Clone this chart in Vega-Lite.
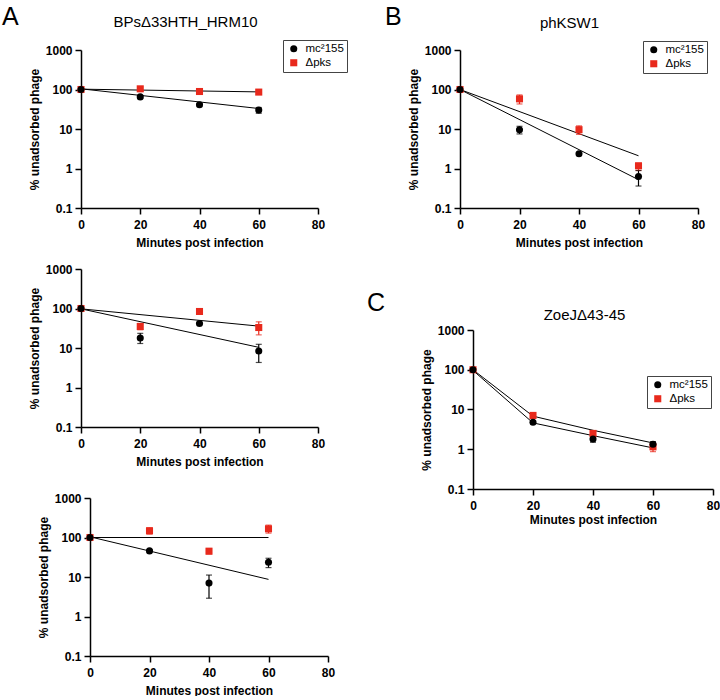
{
  "$schema": "https://vega.github.io/schema/vega-lite/v6.json",
  "padding": {"left": 2, "top": 4, "right": 0, "bottom": 0},
  "background": "white",
  "datasets": {
    "pts": [
      {"p": "A1", "s": "Δpks", "t": 0, "y": 100},
      {"p": "A1", "s": "Δpks", "t": 20, "y": 104, "lo": 92, "hi": 116},
      {"p": "A1", "s": "Δpks", "t": 40, "y": 89, "lo": 84, "hi": 94},
      {"p": "A1", "s": "Δpks", "t": 60, "y": 86, "lo": 76, "hi": 97},
      {"p": "A1", "s": "mc²155", "t": 0, "y": 100},
      {"p": "A1", "s": "mc²155", "t": 20, "y": 65, "lo": 60, "hi": 70},
      {"p": "A1", "s": "mc²155", "t": 40, "y": 41, "lo": 38, "hi": 44},
      {"p": "A1", "s": "mc²155", "t": 60, "y": 30.4, "lo": 25, "hi": 35},
      {"p": "A2", "s": "Δpks", "t": 0, "y": 100},
      {"p": "A2", "s": "Δpks", "t": 20, "y": 35, "lo": 29, "hi": 42},
      {"p": "A2", "s": "Δpks", "t": 40, "y": 84, "lo": 80, "hi": 88},
      {"p": "A2", "s": "Δpks", "t": 60, "y": 33, "lo": 21.5, "hi": 46},
      {"p": "A2", "s": "mc²155", "t": 0, "y": 100},
      {"p": "A2", "s": "mc²155", "t": 20, "y": 18, "lo": 13, "hi": 23.5},
      {"p": "A2", "s": "mc²155", "t": 40, "y": 41.8, "lo": 39, "hi": 44.5},
      {"p": "A2", "s": "mc²155", "t": 60, "y": 8.4, "lo": 4.3, "hi": 12.4},
      {"p": "A3", "s": "Δpks", "t": 0, "y": 100},
      {"p": "A3", "s": "Δpks", "t": 20, "y": 148, "lo": 122, "hi": 176},
      {"p": "A3", "s": "Δpks", "t": 40, "y": 45, "lo": 38.5, "hi": 52.5},
      {"p": "A3", "s": "Δpks", "t": 60, "y": 166, "lo": 129, "hi": 206},
      {"p": "A3", "s": "mc²155", "t": 0, "y": 100},
      {"p": "A3", "s": "mc²155", "t": 20, "y": 45.8, "lo": 43, "hi": 49},
      {"p": "A3", "s": "mc²155", "t": 40, "y": 7.0, "lo": 2.9, "hi": 11.2},
      {"p": "A3", "s": "mc²155", "t": 60, "y": 23.6, "lo": 17.3, "hi": 29.8},
      {"p": "B", "s": "Δpks", "t": 0, "y": 100},
      {"p": "B", "s": "Δpks", "t": 20, "y": 58, "lo": 43, "hi": 73},
      {"p": "B", "s": "Δpks", "t": 40, "y": 9.6, "lo": 7.3, "hi": 12},
      {"p": "B", "s": "Δpks", "t": 60, "y": 1.17, "lo": 0.89, "hi": 1.36},
      {"p": "B", "s": "mc²155", "t": 0, "y": 100},
      {"p": "B", "s": "mc²155", "t": 20, "y": 9.6, "lo": 7.5, "hi": 11.7},
      {"p": "B", "s": "mc²155", "t": 40, "y": 2.37, "lo": 2.2, "hi": 2.55},
      {"p": "B", "s": "mc²155", "t": 60, "y": 0.63, "lo": 0.36, "hi": 0.89},
      {"p": "C", "s": "Δpks", "t": 0, "y": 100},
      {"p": "C", "s": "Δpks", "t": 20, "y": 7.1, "lo": 6.0, "hi": 8.2},
      {"p": "C", "s": "Δpks", "t": 40, "y": 2.5, "lo": 2.1, "hi": 2.9},
      {"p": "C", "s": "Δpks", "t": 60, "y": 1.15, "lo": 0.87, "hi": 1.45},
      {"p": "C", "s": "mc²155", "t": 0, "y": 100},
      {"p": "C", "s": "mc²155", "t": 20, "y": 4.8, "lo": 4.5, "hi": 5.1},
      {"p": "C", "s": "mc²155", "t": 40, "y": 1.82, "lo": 1.5, "hi": 2.2},
      {"p": "C", "s": "mc²155", "t": 60, "y": 1.34, "lo": 1.14, "hi": 1.56}
    ],
    "fits": [
      {"p": "A1", "s": "mc²155", "t": 0, "y": 104},
      {"p": "A1", "s": "mc²155", "t": 60, "y": 33},
      {"p": "A1", "s": "Δpks", "t": 0, "y": 102},
      {"p": "A1", "s": "Δpks", "t": 60, "y": 87},
      {"p": "A2", "s": "mc²155", "t": 0, "y": 98},
      {"p": "A2", "s": "mc²155", "t": 60, "y": 10.4},
      {"p": "A2", "s": "Δpks", "t": 0, "y": 98},
      {"p": "A2", "s": "Δpks", "t": 60, "y": 35.8},
      {"p": "A3", "s": "mc²155", "t": 0, "y": 104},
      {"p": "A3", "s": "mc²155", "t": 60, "y": 8.7},
      {"p": "A3", "s": "Δpks", "t": 0, "y": 100},
      {"p": "A3", "s": "Δpks", "t": 60, "y": 100},
      {"p": "B", "s": "mc²155", "t": 0, "y": 100},
      {"p": "B", "s": "mc²155", "t": 60, "y": 0.52},
      {"p": "B", "s": "Δpks", "t": 0, "y": 100},
      {"p": "B", "s": "Δpks", "t": 60, "y": 2.1},
      {"p": "C", "s": "Δpks", "t": 0, "y": 100},
      {"p": "C", "s": "Δpks", "t": 20, "y": 6.8},
      {"p": "C", "s": "Δpks", "t": 40, "y": 3.0},
      {"p": "C", "s": "Δpks", "t": 60, "y": 1.44},
      {"p": "C", "s": "mc²155", "t": 0, "y": 96},
      {"p": "C", "s": "mc²155", "t": 20, "y": 4.6},
      {"p": "C", "s": "mc²155", "t": 40, "y": 2.2},
      {"p": "C", "s": "mc²155", "t": 60, "y": 1.08}
    ]
  },
  "resolve": {"scale": {"color": "independent", "shape": "independent"}, "legend": {"color": "independent", "shape": "independent"}},
  "spacing": 19,
  "hconcat": [
    {
      "vconcat": [
        {
          "width": 237, "height": 158,
          "title": {"text": "A", "dx": -79, "offset": -16},
          "resolve": {"axis": {"x": "independent"}},
          "layer": [
            {
              "data": {"name": "fits"},
              "transform": [{"filter": "datum.p === 'A1'"}],
              "mark": {"type": "line", "color": "black", "strokeWidth": 1},
              "encoding": {
                "x": {"field": "t", "type": "quantitative", "scale": {"domain": [0, 80], "nice": false}, "axis": {"values": [0, 20, 40, 60, 80], "title": "Minutes post infection"}},
                "y": {"field": "y", "type": "quantitative", "scale": {"type": "log", "domain": [0.1, 1000], "nice": false}, "axis": {"values": [0.1, 1, 10, 100, 1000], "format": "~g", "title": "% unadsorbed phage"}},
                "detail": {"field": "s"}
              }
            },
            {
              "data": {"name": "pts"},
              "transform": [{"filter": "datum.p === 'A1' && isValid(datum.lo)"}],
              "mark": {"type": "errorbar", "ticks": {"size": 6, "thickness": 1.2}, "rule": {"strokeWidth": 1.2}},
              "encoding": {
                "x": {"field": "t", "type": "quantitative", "scale": {"domain": [0, 80], "nice": false}, "axis": null},
                "y": {"field": "lo", "type": "quantitative", "scale": {"type": "log", "domain": [0.1, 1000], "nice": false}, "axis": {"values": [0.1, 1, 10, 100, 1000], "format": "~g", "title": "% unadsorbed phage"}},
                "y2": {"field": "hi"},
                "color": {"field": "s", "type": "nominal", "scale": {"domain": ["mc²155", "Δpks"], "range": ["black", "#e8291c"]}, "legend": {"orient": "none", "legendX": 202, "legendY": -10, "strokeColor": "#444444", "fillColor": "white"}}
              }
            },
            {
              "data": {"name": "pts"},
              "transform": [{"filter": "datum.p === 'A1'"}],
              "mark": {"type": "point", "filled": true, "size": 50, "opacity": 1},
              "encoding": {
                "x": {"field": "t", "type": "quantitative", "scale": {"domain": [0, 80], "nice": false}, "axis": {"orient": "top", "domain": false, "ticks": false, "labels": false, "title": "BPsΔ33HTH_HRM10", "titleX": 104, "titleY": -24, "titleAlign": "center", "titleBaseline": "alphabetic", "titleFontSize": 15, "titleFontWeight": "normal"}},
                "y": {"field": "y", "type": "quantitative", "scale": {"type": "log", "domain": [0.1, 1000], "nice": false}, "axis": {"values": [0.1, 1, 10, 100, 1000], "format": "~g", "title": "% unadsorbed phage"}},
                "color": {"field": "s", "type": "nominal", "scale": {"domain": ["mc²155", "Δpks"], "range": ["black", "#e8291c"]}, "legend": {"orient": "none", "legendX": 202, "legendY": -10, "strokeColor": "#444444", "fillColor": "white"}},
                "shape": {"field": "s", "type": "nominal", "scale": {"domain": ["mc²155", "Δpks"], "range": ["circle", "square"]}, "legend": {"orient": "none", "legendX": 202, "legendY": -10, "strokeColor": "#444444", "fillColor": "white"}}
              }
            }
          ]
        },
        {
          "width": 237, "height": 158,
          "layer": [
            {
              "data": {"name": "fits"},
              "transform": [{"filter": "datum.p === 'A2'"}],
              "mark": {"type": "line", "color": "black", "strokeWidth": 1},
              "encoding": {
                "x": {"field": "t", "type": "quantitative", "scale": {"domain": [0, 80], "nice": false}, "axis": {"values": [0, 20, 40, 60, 80], "title": "Minutes post infection"}},
                "y": {"field": "y", "type": "quantitative", "scale": {"type": "log", "domain": [0.1, 1000], "nice": false}, "axis": {"values": [0.1, 1, 10, 100, 1000], "format": "~g", "title": "% unadsorbed phage"}},
                "detail": {"field": "s"}
              }
            },
            {
              "data": {"name": "pts"},
              "transform": [{"filter": "datum.p === 'A2' && isValid(datum.lo)"}],
              "mark": {"type": "errorbar", "ticks": {"size": 6, "thickness": 1.2}, "rule": {"strokeWidth": 1.2}},
              "encoding": {
                "x": {"field": "t", "type": "quantitative", "scale": {"domain": [0, 80], "nice": false}, "axis": {"values": [0, 20, 40, 60, 80], "title": "Minutes post infection"}},
                "y": {"field": "lo", "type": "quantitative", "scale": {"type": "log", "domain": [0.1, 1000], "nice": false}, "axis": {"values": [0.1, 1, 10, 100, 1000], "format": "~g", "title": "% unadsorbed phage"}},
                "y2": {"field": "hi"},
                "color": {"field": "s", "type": "nominal", "scale": {"domain": ["mc²155", "Δpks"], "range": ["black", "#e8291c"]}, "legend": null}
              }
            },
            {
              "data": {"name": "pts"},
              "transform": [{"filter": "datum.p === 'A2'"}],
              "mark": {"type": "point", "filled": true, "size": 50, "opacity": 1},
              "encoding": {
                "x": {"field": "t", "type": "quantitative", "scale": {"domain": [0, 80], "nice": false}, "axis": {"values": [0, 20, 40, 60, 80], "title": "Minutes post infection"}},
                "y": {"field": "y", "type": "quantitative", "scale": {"type": "log", "domain": [0.1, 1000], "nice": false}, "axis": {"values": [0.1, 1, 10, 100, 1000], "format": "~g", "title": "% unadsorbed phage"}},
                "color": {"field": "s", "type": "nominal", "scale": {"domain": ["mc²155", "Δpks"], "range": ["black", "#e8291c"]}, "legend": null},
                "shape": {"field": "s", "type": "nominal", "scale": {"domain": ["mc²155", "Δpks"], "range": ["circle", "square"]}, "legend": null}
              }
            }
          ]
        },
        {
          "width": 247, "height": 168,
          "layer": [
            {
              "data": {"name": "fits"},
              "transform": [{"filter": "datum.p === 'A3'"}],
              "mark": {"type": "line", "color": "black", "strokeWidth": 1},
              "encoding": {
                "x": {"field": "t", "type": "quantitative", "scale": {"domain": [0, 80], "nice": false, "range": [9, 247]}, "axis": {"values": [0, 20, 40, 60, 80], "title": "Minutes post infection"}},
                "y": {"field": "y", "type": "quantitative", "scale": {"type": "log", "domain": [0.1, 1000], "nice": false, "range": [168, 10]}, "axis": {"values": [0.1, 1, 10, 100, 1000], "format": "~g", "title": "% unadsorbed phage", "offset": -9}},
                "detail": {"field": "s"}
              }
            },
            {
              "data": {"name": "pts"},
              "transform": [{"filter": "datum.p === 'A3' && isValid(datum.lo)"}],
              "mark": {"type": "errorbar", "ticks": {"size": 6, "thickness": 1.2}, "rule": {"strokeWidth": 1.2}},
              "encoding": {
                "x": {"field": "t", "type": "quantitative", "scale": {"domain": [0, 80], "nice": false, "range": [9, 247]}, "axis": {"values": [0, 20, 40, 60, 80], "title": "Minutes post infection"}},
                "y": {"field": "lo", "type": "quantitative", "scale": {"type": "log", "domain": [0.1, 1000], "nice": false, "range": [168, 10]}, "axis": {"values": [0.1, 1, 10, 100, 1000], "format": "~g", "title": "% unadsorbed phage", "offset": -9}},
                "y2": {"field": "hi"},
                "color": {"field": "s", "type": "nominal", "scale": {"domain": ["mc²155", "Δpks"], "range": ["black", "#e8291c"]}, "legend": null}
              }
            },
            {
              "data": {"name": "pts"},
              "transform": [{"filter": "datum.p === 'A3'"}],
              "mark": {"type": "point", "filled": true, "size": 50, "opacity": 1},
              "encoding": {
                "x": {"field": "t", "type": "quantitative", "scale": {"domain": [0, 80], "nice": false, "range": [9, 247]}, "axis": {"values": [0, 20, 40, 60, 80], "title": "Minutes post infection"}},
                "y": {"field": "y", "type": "quantitative", "scale": {"type": "log", "domain": [0.1, 1000], "nice": false, "range": [168, 10]}, "axis": {"values": [0.1, 1, 10, 100, 1000], "format": "~g", "title": "% unadsorbed phage", "offset": -9}},
                "color": {"field": "s", "type": "nominal", "scale": {"domain": ["mc²155", "Δpks"], "range": ["black", "#e8291c"]}, "legend": null},
                "shape": {"field": "s", "type": "nominal", "scale": {"domain": ["mc²155", "Δpks"], "range": ["circle", "square"]}, "legend": null}
              }
            }
          ]
        }
      ],
      "bounds": "flush",
      "spacing": 61,
      "resolve": {"scale": {"color": "independent", "shape": "independent"}, "legend": {"color": "independent", "shape": "independent"}}
    },
    {
      "vconcat": [
        {
          "width": 238, "height": 158,
          "title": {"text": "B", "dx": -75, "offset": -14},
          "resolve": {"axis": {"x": "independent"}},
          "layer": [
            {
              "data": {"name": "fits"},
              "transform": [{"filter": "datum.p === 'B'"}],
              "mark": {"type": "line", "color": "black", "strokeWidth": 1},
              "encoding": {
                "x": {"field": "t", "type": "quantitative", "scale": {"domain": [0, 80], "nice": false}, "axis": {"values": [0, 20, 40, 60, 80], "title": "Minutes post infection"}},
                "y": {"field": "y", "type": "quantitative", "scale": {"type": "log", "domain": [0.1, 1000], "nice": false}, "axis": {"values": [0.1, 1, 10, 100, 1000], "format": "~g", "title": "% unadsorbed phage"}},
                "detail": {"field": "s"}
              }
            },
            {
              "data": {"name": "pts"},
              "transform": [{"filter": "datum.p === 'B' && isValid(datum.lo)"}],
              "mark": {"type": "errorbar", "ticks": {"size": 6, "thickness": 1.2}, "rule": {"strokeWidth": 1.2}},
              "encoding": {
                "x": {"field": "t", "type": "quantitative", "scale": {"domain": [0, 80], "nice": false}, "axis": null},
                "y": {"field": "lo", "type": "quantitative", "scale": {"type": "log", "domain": [0.1, 1000], "nice": false}, "axis": {"values": [0.1, 1, 10, 100, 1000], "format": "~g", "title": "% unadsorbed phage"}},
                "y2": {"field": "hi"},
                "color": {"field": "s", "type": "nominal", "scale": {"domain": ["mc²155", "Δpks"], "range": ["black", "#e8291c"]}, "legend": {"orient": "none", "legendX": 183, "legendY": -9, "strokeColor": "#444444", "fillColor": "white"}}
              }
            },
            {
              "data": {"name": "pts"},
              "transform": [{"filter": "datum.p === 'B'"}],
              "mark": {"type": "point", "filled": true, "size": 50, "opacity": 1},
              "encoding": {
                "x": {"field": "t", "type": "quantitative", "scale": {"domain": [0, 80], "nice": false}, "axis": {"orient": "top", "domain": false, "ticks": false, "labels": false, "title": "phKSW1", "titleX": 109, "titleY": -22.5, "titleAlign": "center", "titleBaseline": "alphabetic", "titleFontSize": 15, "titleFontWeight": "normal"}},
                "y": {"field": "y", "type": "quantitative", "scale": {"type": "log", "domain": [0.1, 1000], "nice": false}, "axis": {"values": [0.1, 1, 10, 100, 1000], "format": "~g", "title": "% unadsorbed phage"}},
                "color": {"field": "s", "type": "nominal", "scale": {"domain": ["mc²155", "Δpks"], "range": ["black", "#e8291c"]}, "legend": {"orient": "none", "legendX": 183, "legendY": -9, "strokeColor": "#444444", "fillColor": "white"}},
                "shape": {"field": "s", "type": "nominal", "scale": {"domain": ["mc²155", "Δpks"], "range": ["circle", "square"]}, "legend": {"orient": "none", "legendX": 183, "legendY": -9, "strokeColor": "#444444", "fillColor": "white"}}
              }
            }
          ]
        },
        {
          "width": 253, "height": 159,
          "title": {"text": "C", "dx": -93, "offset": -9},
          "resolve": {"axis": {"x": "independent"}},
          "layer": [
            {
              "data": {"name": "fits"},
              "transform": [{"filter": "datum.p === 'C'"}],
              "mark": {"type": "line", "color": "black", "strokeWidth": 1},
              "encoding": {
                "x": {"field": "t", "type": "quantitative", "scale": {"domain": [0, 80], "nice": false, "range": [13, 253]}, "axis": {"values": [0, 20, 40, 60, 80], "title": "Minutes post infection", "titlePadding": 3}},
                "y": {"field": "y", "type": "quantitative", "scale": {"type": "log", "domain": [0.1, 1000], "nice": false}, "axis": {"values": [0.1, 1, 10, 100, 1000], "format": "~g", "title": "% unadsorbed phage", "offset": -13}},
                "detail": {"field": "s"}
              }
            },
            {
              "data": {"name": "pts"},
              "transform": [{"filter": "datum.p === 'C' && isValid(datum.lo)"}],
              "mark": {"type": "errorbar", "ticks": {"size": 6, "thickness": 1.2}, "rule": {"strokeWidth": 1.2}},
              "encoding": {
                "x": {"field": "t", "type": "quantitative", "scale": {"domain": [0, 80], "nice": false, "range": [13, 253]}, "axis": null},
                "y": {"field": "lo", "type": "quantitative", "scale": {"type": "log", "domain": [0.1, 1000], "nice": false}, "axis": {"values": [0.1, 1, 10, 100, 1000], "format": "~g", "title": "% unadsorbed phage", "offset": -13}},
                "y2": {"field": "hi"},
                "color": {"field": "s", "type": "nominal", "scale": {"domain": ["mc²155", "Δpks"], "range": ["black", "#e8291c"]}, "legend": {"orient": "none", "legendX": 187, "legendY": 46, "strokeColor": "#444444", "fillColor": "white"}}
              }
            },
            {
              "data": {"name": "pts"},
              "transform": [{"filter": "datum.p === 'C'"}],
              "mark": {"type": "point", "filled": true, "size": 50, "opacity": 1},
              "encoding": {
                "x": {"field": "t", "type": "quantitative", "scale": {"domain": [0, 80], "nice": false, "range": [13, 253]}, "axis": {"orient": "top", "domain": false, "ticks": false, "labels": false, "title": "ZoeJΔ43-45", "titleX": 124, "titleY": -10.7, "titleAlign": "center", "titleBaseline": "alphabetic", "titleFontSize": 15, "titleFontWeight": "normal"}},
                "y": {"field": "y", "type": "quantitative", "scale": {"type": "log", "domain": [0.1, 1000], "nice": false}, "axis": {"values": [0.1, 1, 10, 100, 1000], "format": "~g", "title": "% unadsorbed phage", "offset": -13}},
                "color": {"field": "s", "type": "nominal", "scale": {"domain": ["mc²155", "Δpks"], "range": ["black", "#e8291c"]}, "legend": {"orient": "none", "legendX": 187, "legendY": 46, "strokeColor": "#444444", "fillColor": "white"}},
                "shape": {"field": "s", "type": "nominal", "scale": {"domain": ["mc²155", "Δpks"], "range": ["circle", "square"]}, "legend": {"orient": "none", "legendX": 187, "legendY": 46, "strokeColor": "#444444", "fillColor": "white"}}
              }
            }
          ]
        }
      ],
      "bounds": "flush",
      "spacing": 122,
      "resolve": {"scale": {"color": "independent", "shape": "independent"}, "legend": {"color": "independent", "shape": "independent"}}
    }
  ],
  "config": {
    "font": "Liberation Sans",
    "view": {"stroke": null},
    "axis": {
      "grid": false,
      "domainColor": "black", "domainWidth": 1.5,
      "tickColor": "black", "tickWidth": 1.5, "tickSize": 6,
      "labelColor": "black", "labelFontSize": 12, "labelFontWeight": "bold", "labelFlush": false, "labelOverlap": false,
      "titleColor": "black", "titleFontSize": 12, "titleFontWeight": "bold"
    },
    "axisX": {"titlePadding": 7, "labelPadding": 5},
    "axisY": {"titlePadding": 4, "labelPadding": 3},
    "legend": {
      "title": null,
      "strokeColor": "#444444",
      "strokeWidth": 1,
      "fillColor": "white",
      "padding": 3,
      "symbolSize": 50,
      "symbolStrokeWidth": 0,
      "symbolOpacity": 1,
      "symbolOffset": 2,
      "labelOffset": 6,
      "labelFontSize": 11.5,
      "labelColor": "black",
      "rowPadding": 1
    },
    "title": {"color": "black", "fontSize": 25, "fontWeight": "normal", "anchor": "start", "frame": "group"}
  }
}
